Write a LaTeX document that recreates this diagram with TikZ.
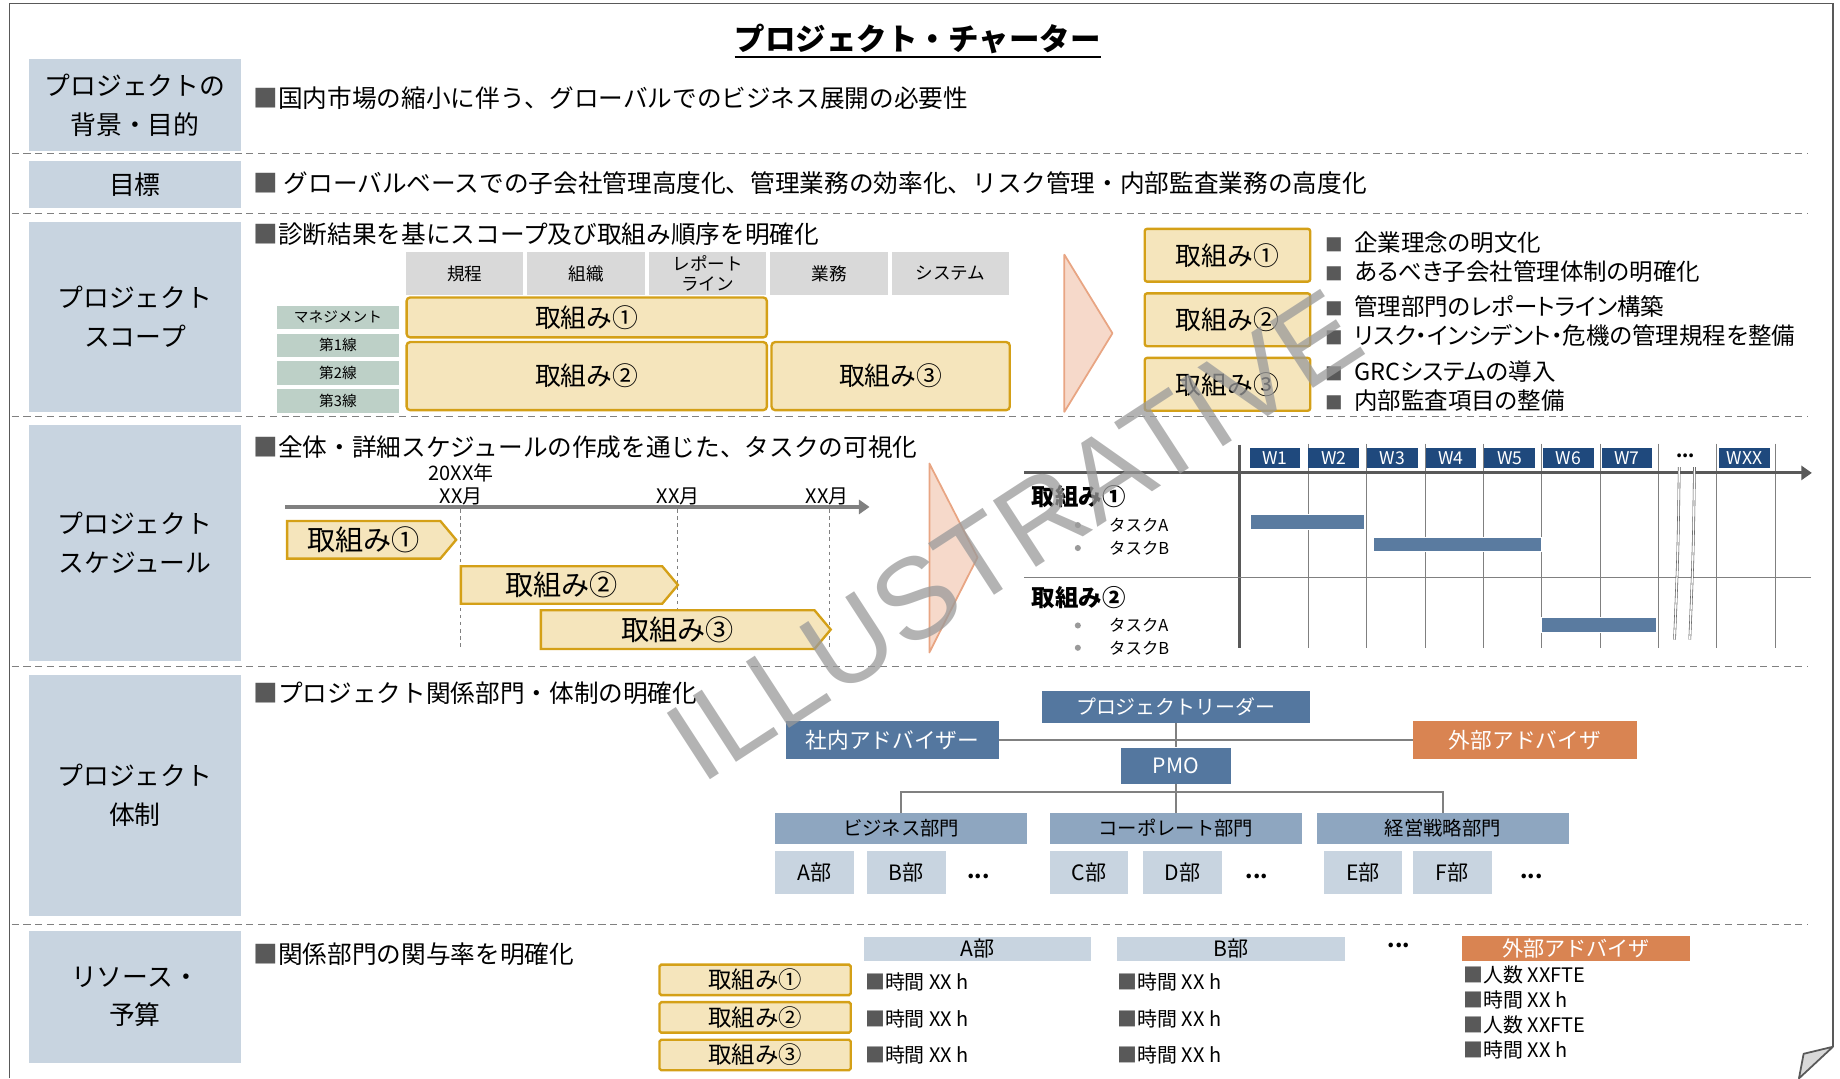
\documentclass[tikz,border=0pt]{standalone}
\usepackage{fontspec}
\setmainfont{Noto Sans CJK JP}
\newfontfamily\pfont{Noto Sans CJK JP}[RawFeature=+palt]
\newfontfamily\wmfont{Liberation Sans}
\usetikzlibrary{shapes.symbols,arrows.meta}

\definecolor{secblue}{HTML}{C8D4E0}
\definecolor{cellgray}{HTML}{D9D9D9}
\definecolor{rowgreen}{HTML}{BDD0C7}
\definecolor{tkfill}{HTML}{F5E5BC}
\definecolor{tkedge}{HTML}{D4A017}
\definecolor{trifill}{HTML}{F6D9CA}
\definecolor{triedge}{HTML}{E8A583}
\definecolor{wkblue}{HTML}{1F497D}
\definecolor{barblue}{HTML}{5A7BA0}
\definecolor{orgblue}{HTML}{54779F}
\definecolor{orgorange}{HTML}{D98452}
\definecolor{deptblue}{HTML}{8EA6C0}
\definecolor{sqgray}{HTML}{595959}
\definecolor{linegray}{HTML}{808080}
\definecolor{wmgray}{HTML}{9A9A9A}

\newcommand{\fsz}[2]{\fontsize{#1}{#2}\selectfont}
\newcommand{\sq}{\textcolor{sqgray}{■}}

\begin{document}
\begin{tikzpicture}[x=1pt, y=-1pt,
    secbox/.style={fill=secblue, align=center, font=\fsz{22}{33}, minimum width=180pt, inner sep=0pt},
    bodytxt/.style={anchor=west, font=\fsz{21}{24}, inner sep=0pt},
    sep/.style={linegray, line width=1.1pt, dash pattern=on 6pt off 4pt},
    hcell/.style={fill=cellgray, minimum width=100pt, minimum height=36pt, align=center, font=\fsz{15}{17}, inner sep=0pt},
    rcell/.style={fill=rowgreen, minimum width=104pt, minimum height=20pt, font=\fsz{12.5}{14}, inner sep=0pt},
    tkbox/.style={fill=tkfill, draw=tkedge, line width=2pt, rounded corners=3pt, inner sep=0pt, font=\fsz{22}{24}},
    bigtri/.style={fill=trifill, draw=triedge, line width=1.5pt, line join=round},
    bullet/.style={anchor=west, font=\pfont\fsz{20}{22}, inner sep=0pt},
    chev/.style={shape=signal, signal to=east, signal pointer angle=100, fill=tkfill, draw=tkedge, line width=2pt, inner sep=0pt, font=\fsz{24}{26}},
    wk/.style={fill=wkblue, text=white, minimum width=43pt, minimum height=17pt, inner sep=0pt, font=\fsz{15}{16}},
    gtitle/.style={anchor=west, font=\fsz{20}{22}\bfseries, inner sep=0pt},
    gtask/.style={anchor=west, font=\fsz{14}{16}, inner sep=0pt},
    gridline/.style={linegray, line width=0.8pt},
    bar/.style={fill=barblue, draw=white, line width=0.8pt},
    orgbox/.style={fill=orgblue, text=white, inner sep=0pt},
    orgline/.style={linegray, line width=1.5pt},
    deptbox/.style={fill=deptblue, minimum width=215pt, minimum height=26pt, inner sep=0pt, font=\fsz{16.5}{18}},
    subbox/.style={fill=secblue, minimum width=67pt, minimum height=37pt, inner sep=0pt, font=\fsz{18}{20}},
    dots/.style={font=\fsz{18}{20}\bfseries, inner sep=0pt},
    resh/.style={fill=secblue, minimum width=194pt, minimum height=20pt, inner sep=0pt, font=\fsz{18}{19}},
    item/.style={anchor=west, font=\fsz{17}{19}, inner sep=0pt},
    wm/.style={font=\wmfont\fsz{98}{98}, text=wmgray, text opacity=0.75, rotate=33, inner sep=0pt}]

    \useasboundingbox (0,0) rectangle (1568,919);

    % --- Page frame ---
    \draw[sqgray, line width=1.5pt] (8,919) -- (8,3) -- (1562,3) -- (1562,892);
    \draw[sqgray, line width=1.5pt, fill=cellgray, line join=round] (1562,892) -- (1537,898) -- (1533,919) -- cycle;

    % --- Title ---
    \node[font=\fsz{26}{28}\bfseries, inner sep=0pt] (title) at (782,33) {プロジェクト・チャーター};
    \draw[line width=1.6pt] ([yshift=-3pt]title.south west) -- ([yshift=-3pt]title.south east);

    % --- Section labels ---
    \node[secbox, minimum height=78pt] (bg) at (115,89.5) {プロジェクトの\\背景・目的};
    \node[secbox, minimum height=40pt] (goal) at (115,157) {目標};
    \node[secbox, minimum height=162pt] (scope) at (115,270) {プロジェクト\\スコープ};
    \node[secbox, minimum height=201pt] (sched) at (115,462.5) {プロジェクト\\スケジュール};
    \node[secbox, minimum height=206pt] (team) at (115,678) {プロジェクト\\体制};
    \node[secbox, minimum height=113pt] (res) at (115,849.5) {リソース・\\予算};

    % --- Separators ---
    \foreach \y in {131,182,355,568,788} {
        \draw[sep] (10,\y) -- (1541,\y);
    }

    % --- Background and goal ---
    \node[bodytxt] (bgtxt) at (216,84) {\sq 国内市場の縮小に伴う、グローバルでのビジネス展開の必要性};
    \node[bodytxt] (goaltxt) at (216,156) {\sq\ グローバルベースでの子会社管理高度化、管理業務の効率化、リスク管理・内部監査業務の高度化};

    % --- Scope ---
    \node[bodytxt] (scopetxt) at (216,200) {\sq 診断結果を基にスコープ及び取組み順序を明確化};
    \foreach \t [count=\i from 0] in {規程, 組織, {レポート\\ライン}, 業務, システム} {
        \node[hcell] (hd\i) at (396+103.5*\i,233) {\t};
    }
    \foreach \t [count=\i from 0] in {マネジメント, 第1線, 第2線, 第3線} {
        \node[rcell] (rw\i) at (288,270.5+23.7*\i) {\t};
    }
    \node[tkbox, minimum width=307pt, minimum height=34pt] (sc1) at (500,270.5) {取組み①};
    \node[tkbox, minimum width=307pt, minimum height=58pt] (sc2) at (500,320.5) {取組み②};
    \node[tkbox, minimum width=203pt, minimum height=58pt] (sc3) at (759,320.5) {取組み③};

    \draw[bigtri] (907,217) -- (948,284) -- (907,351) -- cycle;

    \foreach \y/\t [count=\i] in {217.5/①, 272.5/②, 327.5/③} {
        \node[tkbox, rounded corners=2pt, minimum width=141pt, minimum height=45pt] (rt\i) at (1046,\y) {取組み\t};
    }
    \foreach \y/\t [count=\i] in {207/企業理念の明文化, 231.5/あるべき子会社管理体制の明確化,
        261/管理部門のレポートライン構築, 285.5/リスク・インシデント・危機の管理規程を整備,
        316.5/GRCシステムの導入, 341/内部監査項目の整備} {
        \node[bullet] (bl\i) at (1129,\y) {{\color{sqgray}\fsz{15}{15}■}\hspace{10pt}\t};
    }

    % --- Schedule ---
    \node[bodytxt] (schedtxt) at (216,381) {\sq 全体・詳細スケジュールの作成を通じた、タスクの可視化};
    \coordinate (tl0) at (243,432);
    \coordinate (tl1) at (741,432);
    \draw[linegray, line width=3pt, -{Triangle[length=9pt,width=12pt]}] (tl0) -- (tl1);
    \node[font=\fsz{17}{20}, align=center, inner sep=0pt] (m1) at (393,413) {20XX年\\XX月};
    \node[font=\fsz{17}{20}, inner sep=0pt] (m2) at (578,423) {XX月};
    \node[font=\fsz{17}{20}, inner sep=0pt] (m3) at (705,423) {XX月};
    \foreach \x in {392,577,707} {
        \draw[linegray, dashed, line width=0.7pt] (\x,434) -- (\x,553);
    }
    \node[chev, minimum width=144pt, minimum height=32pt] (ch1) at (310,460) {取組み①};
    \node[chev, minimum width=185pt, minimum height=32pt] (ch2) at (478.5,498.5) {取組み②};
    \node[chev, minimum width=247pt, minimum height=33pt] (ch3) at (577.5,536.5) {取組み③};

    \draw[bigtri] (792,395) -- (833,475) -- (792,556) -- cycle;

    % --- Gantt chart ---
    \foreach \i in {0,...,8} {
        \draw[gridline] (1115+49.7*\i,378) -- (1115+49.7*\i,552);
    }
    \coordinate (gx0) at (873,403);
    \coordinate (gx1) at (1544,403);
    \draw[sqgray, line width=2.5pt, -{Triangle[length=9pt,width=12pt]}] (gx0) -- (gx1);
    \draw[sqgray, line width=2.5pt] (1056,379) -- (1056,552);
    \draw[gridline] (873,492) -- (1543,492);
    \foreach \x in {1431,1444} {
        \draw[sqgray, line width=0.5pt, double=white, double distance=1.2pt] (\x,398) .. controls (\x-1,470) .. (\x-4,545);
    }
    \foreach \t [count=\i from 0] in {W1,W2,W3,W4,W5,W6,W7} {
        \node[wk] (wk\i) at (1086.5+50*\i,390) {\t};
    }
    \node[font=\fsz{15}{16}\bfseries, inner sep=0pt] (wdots) at (1436.5,388) {...};
    \node[wk, minimum width=44pt] (wkx) at (1486.5,390) {WXX};

    \node[gtitle] (g1) at (879,423) {取組み①};
    \node[gtask] (g1a) at (945,447.5) {タスクA};
    \node[gtask] (g1b) at (945,467) {タスクB};
    \node[gtitle] (g2) at (879,509) {取組み②};
    \node[gtask] (g2a) at (945,533) {タスクA};
    \node[gtask] (g2b) at (945,552) {タスクB};
    \foreach \y in {447.5,467,533,552} {
        \fill[linegray!80] (918.5,\y) circle (2.6pt);
    }
    \draw[bar] (1066,438) rectangle (1163,451);
    \draw[bar] (1170,458) rectangle (1314,470);
    \draw[bar] (1314,526) rectangle (1412,539);

    % --- Project organisation ---
    \node[bodytxt] (teamtxt) at (216,591) {\sq プロジェクト関係部門・体制の明確化};
    \node[orgbox, minimum width=228pt, minimum height=27pt, font=\fsz{17}{18}] (lead) at (1002,602.5) {プロジェクトリーダー};
    \node[orgbox, minimum width=94pt, minimum height=31pt, font=\fsz{18}{20}] (pmo) at (1002,652.5) {PMO};
    \node[orgbox, minimum width=181pt, minimum height=33pt, font=\fsz{18.5}{20}] (inadv) at (760.5,630.5) {社内アドバイザー};
    \node[orgbox, fill=orgorange, minimum width=191pt, minimum height=33pt, font=\fsz{18.5}{20}] (exadv) at (1299.5,630.5) {外部アドバイザ};
    \draw[orgline, line width=2pt] (inadv) -- (exadv);
    \draw[orgline] (lead) -- (pmo);

    \node[deptbox] (dept1) at (768,706) {ビジネス部門};
    \node[deptbox] (dept2) at (1002,706) {コーポレート部門};
    \node[deptbox] (dept3) at (1229.5,706) {経営戦略部門};
    \coordinate (bus) at (1002,675);
    \draw[orgline] (pmo) -- (dept2);
    \draw[orgline] (dept1.north) |- (bus) -| (dept3.north);

    \foreach \x/\t [count=\i] in {694/A部, 772.3/B部, 928/C部, 1007.8/D部, 1161.5/E部, 1237.5/F部} {
        \node[subbox] (sub\i) at (\x,743.5) {\t};
    }
    \foreach \x [count=\i] in {834,1071,1305} {
        \node[dots] (odot\i) at (\x,747) {...};
    }

    % --- Resources and budget ---
    \node[bodytxt] (restxt) at (216,813) {\sq 関係部門の関与率を明確化};
    \foreach \y/\t [count=\i] in {835/①, 867/②, 899/③} {
        \node[tkbox, rounded corners=1.5pt, minimum width=163pt, minimum height=26pt, font=\fsz{20}{22}] (rk\i) at (643.5,\y) {取組み\t};
    }
    \node[resh] (rhA) at (833,808.5) {A部};
    \node[resh] (rhB) at (1049,808.5) {B部};
    \node[dots] (rdots) at (1192,806) {...};
    \node[resh, fill=orgorange, text=white, minimum height=21pt] (rhX) at (1343,808) {外部アドバイザ};
    \foreach \y [count=\i] in {837,868,899} {
        \node[item] (ia\i) at (737,\y) {\sq 時間 XX h};
        \node[item] (ib\i) at (952,\y) {\sq 時間 XX h};
    }
    \foreach \y/\t [count=\i] in {831/人数 XXFTE, 852/時間 XX h, 873.5/人数 XXFTE, 895/時間 XX h} {
        \node[item] (ix\i) at (1247,\y) {\sq\t};
    }

    % --- Watermark ---
    \node[wm] (wmark) at (864,456) {ILLUSTRATIVE};

\end{tikzpicture}
\end{document}
